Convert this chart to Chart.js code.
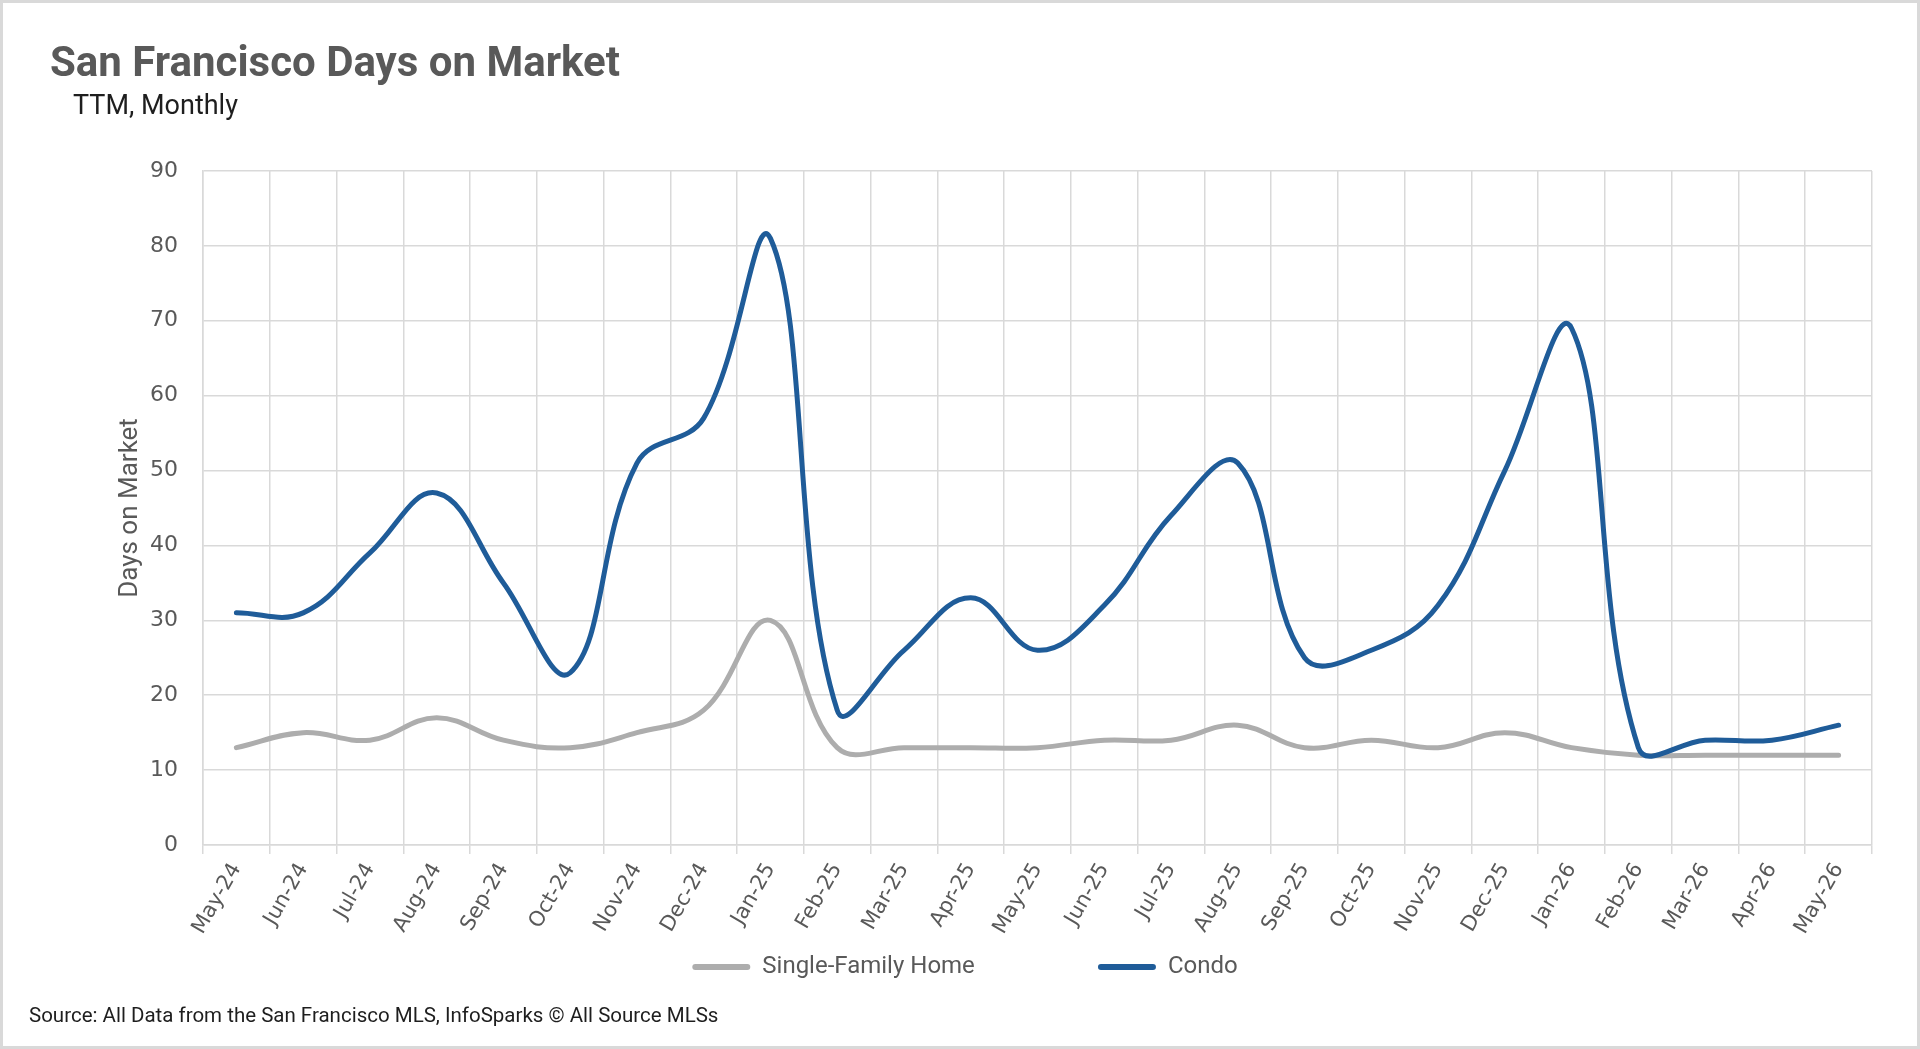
<!DOCTYPE html>
<html>
<head>
<meta charset="utf-8">
<title>San Francisco Days on Market</title>
<script src="https://cdn.jsdelivr.net/npm/chart.js@4.4.1/dist/chart.umd.min.js"></script>
<style>
    html, body { margin: 0; padding: 0; background: #fff; }
    #wrap { position: relative; width: 1920px; height: 1049px; overflow: hidden; background: #fff; }
    #frame { position: absolute; left: 0; top: 0; width: 1920px; height: 1049px; box-sizing: border-box; border: 3px solid #d9d9d9; pointer-events: none; }
    .txt { position: absolute; white-space: nowrap; font-family: Roboto, sans-serif; line-height: 1; }
    #title { left: 50px; top: 41px; font-size: 42px; font-weight: 700; color: #595959; }
    #subtitle { left: 73px; top: 92px; font-size: 27px; color: #1e1e1e; }
    #source { left: 29px; top: 1005px; font-size: 20.5px; color: #1e1e1e; }
</style>
</head>
<body>
<div id="wrap">
    <canvas id="domcanvas" width="1920" height="1049"></canvas>
    <div class="txt" id="title">San Francisco Days on Market</div>
    <div class="txt" id="subtitle">TTM, Monthly</div>
    <div class="txt" id="source">Source: All Data from the San Francisco MLS, InfoSparks © All Source MLSs</div>
    <div id="frame"></div>
</div>
<script>
// months on the x axis
const months = ["May-24", "Jun-24", "Jul-24", "Aug-24", "Sep-24", "Oct-24", "Nov-24", "Dec-24",
                "Jan-25", "Feb-25", "Mar-25", "Apr-25", "May-25", "Jun-25", "Jul-25", "Aug-25",
                "Sep-25", "Oct-25", "Nov-25", "Dec-25", "Jan-26", "Feb-26", "Mar-26", "Apr-26", "May-26"];

// days on market
const singleFamily = [13, 15, 14, 17, 14, 13, 15, 18, 30, 13, 13, 13, 13, 14, 14, 16, 13, 14, 13, 15, 13, 12, 12, 12, 12];
const condo        = [31, 31, 39, 47, 35, 23, 51, 57, 81, 18, 26, 33, 26, 32, 44, 51, 25, 26, 32, 50, 69, 13, 14, 14, 16];

const seriesNames  = ["Single-Family Home", "Condo"];
const seriesColors = ["#adadad", "#1f5c99"];

const yMin = 0, yMax = 90, yStep = 10;

const gridColor = "#d9d9d9";
const textColor = "#595959";

// extra blank space after each legend label so the items sit as far apart as in the picture
const legendGap = [19, 1];

const ctx = document.getElementById("domcanvas").getContext("2d");
new Chart(ctx, {
    type: "line",
    data: {
        labels: months,
        datasets: [{
            label: seriesNames[0],
            data: singleFamily,
            borderColor: seriesColors[0],
            backgroundColor: seriesColors[0],
            order: 2
        }, {
            label: seriesNames[1],
            data: condo,
            borderColor: seriesColors[1],
            backgroundColor: seriesColors[1],
            order: 1
        }]
    },
    options: {
        responsive: false,
        maintainAspectRatio: false,
        animation: false,
        layout: {
            padding: { left: 64, right: 48, top: 171, bottom: 60 }
        },
        elements: {
            line: {
                borderWidth: 5,
                tension: 0.4,
                borderCapStyle: "round",
                borderJoinStyle: "round",
                fill: false
            },
            point: { radius: 0, hoverRadius: 0 }
        },
        plugins: {
            title: { display: false },
            tooltip: { enabled: false },
            legend: {
                display: true,
                position: "bottom",
                labels: {
                    boxWidth: 58,
                    boxHeight: 6,
                    padding: 10,
                    useBorderRadius: true,
                    borderRadius: 3,
                    color: textColor,
                    font: { family: "Roboto", size: 24 },
                    generateLabels: (chart) => chart.data.datasets.map((ds, i) => ({
                        text: ds.label + " ".repeat(legendGap[i]),
                        fillStyle: ds.borderColor,
                        strokeStyle: ds.borderColor,
                        lineWidth: 0,
                        hidden: false,
                        datasetIndex: i,
                        fontColor: textColor,
                        borderRadius: 3
                    }))
                }
            }
        },
        scales: {
            x: {
                offset: true,
                grid: {
                    offset: true,
                    color: gridColor,
                    lineWidth: 1.5,
                    drawTicks: true,
                    tickLength: 9,
                    tickColor: gridColor
                },
                border: { display: true, color: gridColor, width: 1.5 },
                ticks: {
                    autoSkip: false,
                    maxRotation: 60,
                    minRotation: 60,
                    padding: 5,
                    color: textColor,
                    font: { family: "DejaVu Sans", size: 21 }
                },
                afterFit: (scale) => { scale.height = 100; }
            },
            y: {
                min: yMin,
                max: yMax,
                ticks: {
                    stepSize: yStep,
                    padding: 25,
                    color: textColor,
                    font: { family: "DejaVu Sans", size: 22 }
                },
                grid: {
                    color: gridColor,
                    lineWidth: 1.5,
                    drawTicks: false
                },
                border: { display: true, color: gridColor, width: 1.5 },
                title: {
                    display: true,
                    text: "Days on Market",
                    color: textColor,
                    font: { family: "Roboto", size: 26 },
                    padding: { top: 51, bottom: 0 }
                },
                afterFit: (scale) => { scale.width = 139; }
            }
        }
    }
});
</script>
</body>
</html>
